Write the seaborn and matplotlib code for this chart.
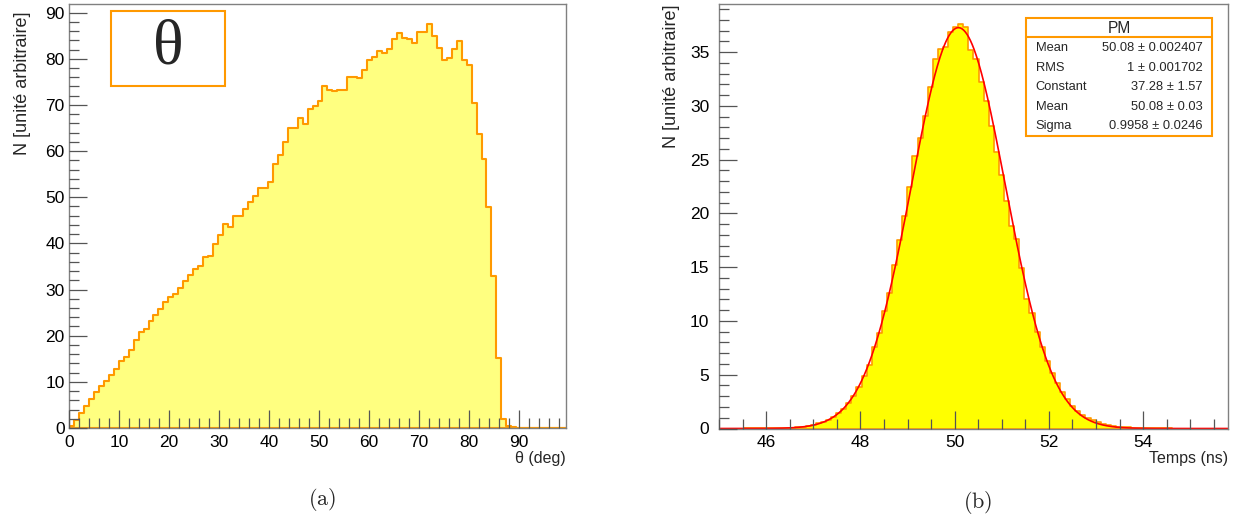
import numpy as np
import pandas as pd
import matplotlib
matplotlib.use('Agg')
import matplotlib.pyplot as plt
from matplotlib.ticker import MultipleLocator
from matplotlib.patches import Rectangle
import seaborn as sns

# (a) histogramme theta : 100 canaux entre 0 et 99.4 deg
theta_min, theta_max = 0.0, 99.4
theta_n = [0.4, 1.8, 3.3, 4.8, 6.2, 7.7, 9.0, 10.2, 11.5, 12.8,
           14.5, 15.3, 17.0, 19.1, 20.8, 21.5, 23.1, 24.5, 25.7, 27.3,
           28.3, 29.1, 30.3, 31.8, 33.2, 34.4, 35.0, 37.0, 37.3, 39.8,
           41.9, 44.2, 43.5, 45.9, 45.9, 47.4, 48.9, 50.3, 52.0, 52.0,
           53.3, 57.1, 59.2, 61.9, 65.1, 65.1, 67.1, 65.8, 69.1, 69.8,
           70.8, 74.0, 73.2, 73.0, 73.3, 73.2, 76.1, 76.1, 75.9, 77.6,
           79.8, 80.3, 81.7, 81.2, 82.1, 84.3, 85.5, 84.6, 84.2, 83.4,
           85.7, 85.7, 87.5, 85.0, 82.4, 79.7, 80.2, 82.1, 83.9, 79.8,
           78.7, 70.4, 63.7, 58.2, 47.9, 32.9, 15.1, 2.0, 0.4, 0.15,
           0.1, 0.05, 0.05, 0.02, 0, 0, 0, 0, 0, 0]

# (b) histogramme temps PM : 100 canaux entre 45 et 55.8 ns
temps_min, temps_max = 45.0, 55.8
temps_n = [0, 0, 0, 0, 0, 0.01, 0.01, 0.01, 0.02, 0.02,
           0.03, 0.04, 0.05, 0.06, 0.08, 0.11, 0.15, 0.25, 0.35, 0.5,
           0.62, 0.82, 1.1, 1.45, 1.8, 2.35, 3.05, 3.85, 4.9, 5.95,
           7.55, 8.9, 10.95, 12.6, 15.25, 17.5, 19.8, 22.5, 25.3, 27.0,
           29.1, 31.8, 34.4, 35.3, 35.5, 36.9, 37.3, 37.6, 37.3, 35.2,
           34.4, 32.2, 30.5, 28.1, 25.7, 23.6, 21.2, 18.8, 17.6, 14.9,
           12.0, 10.7, 9.0, 7.55, 6.25, 5.2, 4.2, 3.4, 2.75, 2.1,
           1.6, 1.3, 1.0, 0.78, 0.6, 0.45, 0.32, 0.25, 0.18, 0.13,
           0.1, 0.07, 0.05, 0.04, 0.03, 0.02, 0.02, 0.01, 0.01, 0,
           0, 0, 0, 0, 0, 0, 0, 0, 0, 0]

# ajustement gaussien (boite de stats)
fit_constant, fit_mean, fit_sigma = 37.28, 50.08, 0.9958
stats_noms = ['Mean', 'RMS', 'Constant', 'Mean', 'Sigma']
stats_valeurs = ['50.08 ± 0.002407', '1 ± 0.001702', '37.28 ± 1.57',
                 '50.08 ± 0.03', '0.9958 ± 0.0246']

orange = '#ff9900'
gris = '#808080'

sns.set_style('ticks')
plt.rcParams['font.family'] = ['Liberation Sans', 'DejaVu Sans']
plt.rcParams['mathtext.fontset'] = 'cm'


def histo(valeurs, vmin, vmax):
    bords = np.linspace(vmin, vmax, len(valeurs) + 1)
    df = pd.DataFrame({'x': 0.5 * (bords[:-1] + bords[1:]), 'n': valeurs})
    return df, list(bords)


def style_axe(ax, pad_y):
    ax.set_axisbelow(False)
    for s in ax.spines.values():
        s.set_color(gris)
        s.set_linewidth(1.0)
    ax.tick_params(which='both', direction='in', colors='#555555',
                   labelcolor='black', top=False, right=False)
    ax.tick_params(which='major', length=13, width=0.9, labelsize=12.5)
    ax.tick_params(which='minor', length=7, width=0.9)
    ax.tick_params(axis='y', pad=pad_y)
    ax.tick_params(axis='x', pad=5)


fig = plt.figure(figsize=(12.38, 5.23), dpi=100)
ax1 = fig.add_axes([69 / 1238, (523 - 428) / 523, 497 / 1238, 424 / 523])
ax2 = fig.add_axes([719 / 1238, (523 - 428.5) / 523, 509 / 1238, 424.5 / 523])

# Graphique (a) : theta
df_theta, bords_theta = histo(theta_n, theta_min, theta_max)
sns.histplot(data=df_theta, x='x', weights='n', bins=bords_theta, element='step',
             fill=True, facecolor='#ffff80', edgecolor=orange, linewidth=1.5,
             alpha=1, ax=ax1)
ax1.set_xlim(theta_min, theta_max)
ax1.set_ylim(0, 1.05 * max(theta_n))
ax1.xaxis.set_major_locator(MultipleLocator(10))
ax1.xaxis.set_minor_locator(MultipleLocator(2))
ax1.yaxis.set_major_locator(MultipleLocator(10))
ax1.yaxis.set_minor_locator(MultipleLocator(2))
style_axe(ax1, 3)
ax1.set_xlabel('θ (deg)', fontsize=11.5, loc='right')
ax1.xaxis.set_label_coords(1.0, -0.054)
ax1.set_ylabel('N [unité arbitraire]', fontsize=13, loc='top')
ax1.yaxis.set_label_coords(-0.077, 0.983)

ax1.add_patch(Rectangle((0.0845, 0.8066), 0.2295, 0.177, transform=ax1.transAxes,
                        facecolor='white', edgecolor=orange, linewidth=1.5, zorder=5))
ax1.text(0.1992, 0.896, 'θ', transform=ax1.transAxes, ha='center', va='center',
         fontsize=46, family=['Liberation Serif', 'DejaVu Serif'], zorder=6)

# Graphique (b) : temps PM avec ajustement gaussien
df_temps, bords_temps = histo(temps_n, temps_min, temps_max)
sns.histplot(data=df_temps, x='x', weights='n', bins=bords_temps, element='step',
             fill=True, facecolor='#ffff00', edgecolor=orange, linewidth=1.2,
             alpha=1, ax=ax2)
t = np.linspace(temps_min, temps_max, 600)
gauss = fit_constant * np.exp(-0.5 * ((t - fit_mean) / fit_sigma) ** 2)
sns.lineplot(x=t, y=gauss, color='#ff0000', linewidth=1.2, estimator=None, ax=ax2)
ax2.set_xlim(temps_min, temps_max)
ax2.set_ylim(0, 1.05 * max(temps_n))
ax2.xaxis.set_major_locator(MultipleLocator(2))
ax2.xaxis.set_minor_locator(MultipleLocator(0.5))
ax2.yaxis.set_major_locator(MultipleLocator(5))
ax2.yaxis.set_minor_locator(MultipleLocator(1))
style_axe(ax2, 7)
ax2.set_xlabel('Temps (ns)', fontsize=11.5, loc='right')
ax2.xaxis.set_label_coords(1.0, -0.054)
ax2.set_ylabel('N [unité arbitraire]', fontsize=13, loc='top')
ax2.yaxis.set_label_coords(-0.077, 1.0)

# boite de stats
ax2.add_patch(Rectangle((0.603, 0.689), 0.3656, 0.277, transform=ax2.transAxes,
                        facecolor='white', edgecolor=orange, linewidth=1.5, zorder=5))
ax2.plot([0.603, 0.9686], [0.9216, 0.9216], transform=ax2.transAxes,
         color=orange, linewidth=1.5, zorder=6)
ax2.text(0.786, 0.943, 'PM', transform=ax2.transAxes, ha='center', va='center',
         fontsize=11.2, zorder=7)
for i, (nom, val) in enumerate(zip(stats_noms, stats_valeurs)):
    y = 1 - (48.3 + 19.4 * i - 4) / 424.5
    ax2.text(0.622, y, nom, transform=ax2.transAxes, ha='left', va='center',
             fontsize=9.3, zorder=7)
    ax2.text(0.950, y, val, transform=ax2.transAxes, ha='right', va='center',
             fontsize=9.3, zorder=7)

fig.text(0.260, 0.044, r'$(\mathrm{a})$', ha='center', va='center', fontsize=16)
fig.text(0.790, 0.040, r'$(\mathrm{b})$', ha='center', va='center', fontsize=16)

plt.savefig('out.png', dpi=100, facecolor='white')
